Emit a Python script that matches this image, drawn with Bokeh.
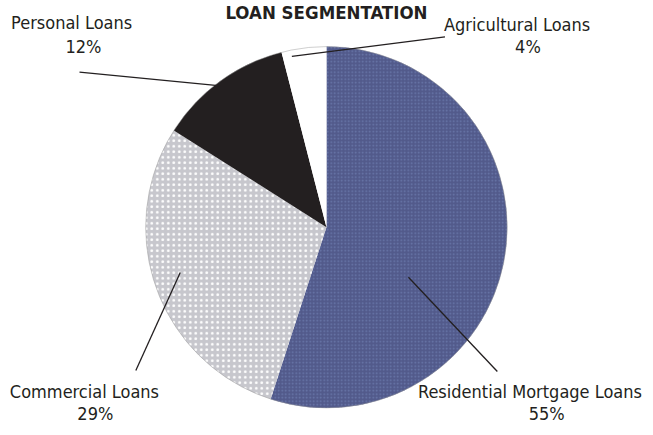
from bokeh.plotting import figure
from bokeh.models import Range1d, ColumnDataSource
from bokeh.core.properties import value
from bokeh.embed import file_html
from bokeh.resources import INLINE

# ---- data ----
categories = ["Residential Mortgage Loans", "Commercial Loans", "Personal Loans", "Agricultural Loans"]
shares = [55, 29, 12, 4]
pct_labels = ["55%", "29%", "12%", "4%"]
title_text = "LOAN SEGMENTATION"

# ---- style / layout ----
fills = ["#525a8b", "#c7c7cd", "#231f20", "#ffffff"]
hatches = ["dot", "dot", " ", " "]
hatch_colors = ["#6a78ab", "#ffffff", "#231f20", "#ffffff"]
hatch_scales = [3.5, 5.5, 12, 12]
FONT = "DejaVu Sans Condensed"

W, H = 645, 427          # figure size (fits window with 8px margin)
RW, RH = 653, 435        # reference coordinate space
TXT_SHIFT = 6            # compensation for text baseline placement

def Y(py):
    return RH - py

def TY(py):
    return RH - (py - TXT_SHIFT)

cx, cy, r = 330, Y(231), 183

# wedge angles (clockwise from 12 o'clock)
total = float(sum(shares))
starts, ends = [], []
acc = 0.0
for s in shares:
    starts.append(90 - acc / total * 360)
    acc += s
    ends.append(90 - acc / total * 360)

src = ColumnDataSource(dict(cat=categories, share=shares, start=starts, end=ends,
                            fill=fills, hatch=hatches, hcol=hatch_colors, hsc=hatch_scales))

p = figure(width=W, height=H, output_backend="svg", toolbar_location=None, title=None,
           x_range=Range1d(0, RW), y_range=Range1d(0, RH), min_border=0)
p.axis.visible = False
p.grid.visible = False
p.outline_line_color = None
p.background_fill_color = "white"
p.border_fill_color = "white"

p.wedge(x=cx, y=cy, radius=r, start_angle="start", end_angle="end",
        start_angle_units="deg", end_angle_units="deg", direction="clock",
        fill_color="fill", line_color=None, hatch_pattern="hatch",
        hatch_color="hcol", hatch_scale="hsc", hatch_weight=1.3, source=src)

# faint rim
p.circle(x=[cx], y=[cy], radius=r, fill_color=None, line_color="#9a9a9a", line_width=0.8, line_alpha=0.6)

# leader lines (reference pixel coords)
leaders = [
    ((413, 282), (503, 378)),   # Residential
    ((182, 277), (137, 377)),   # Commercial
    ((223, 87), (80, 73)),      # Personal
    ((295, 57), (450, 37)),     # Agricultural
]
p.segment(x0=[a[0] for a, b in leaders], y0=[Y(a[1]) for a, b in leaders],
          x1=[b[0] for a, b in leaders], y1=[Y(b[1]) for a, b in leaders],
          line_color="#231f20", line_width=1.3)

# labels
name_pos = [(536, 404), (85, 404), (72, 28), (523, 30)]
pct_pos = [(553, 427), (96, 427), (84, 53), (534, 53)]
p.text(x=[x for x, y in name_pos], y=[TY(y) for x, y in name_pos], text=categories,
       text_font=value(FONT), text_font_size="18px", text_color="#231f20",
       text_align="center", text_baseline="alphabetic")
p.text(x=[x for x, y in pct_pos], y=[TY(y) for x, y in pct_pos], text=pct_labels,
       text_font=value(FONT), text_font_size="18px", text_color="#231f20",
       text_align="center", text_baseline="alphabetic")

# title
p.text(x=[330], y=[TY(18)], text=[title_text], text_font=value(FONT), text_font_style="bold",
       text_font_size="18.5px", text_color="#231f20", text_align="center", text_baseline="alphabetic")

open("out.html", "w").write(file_html(p, INLINE))
